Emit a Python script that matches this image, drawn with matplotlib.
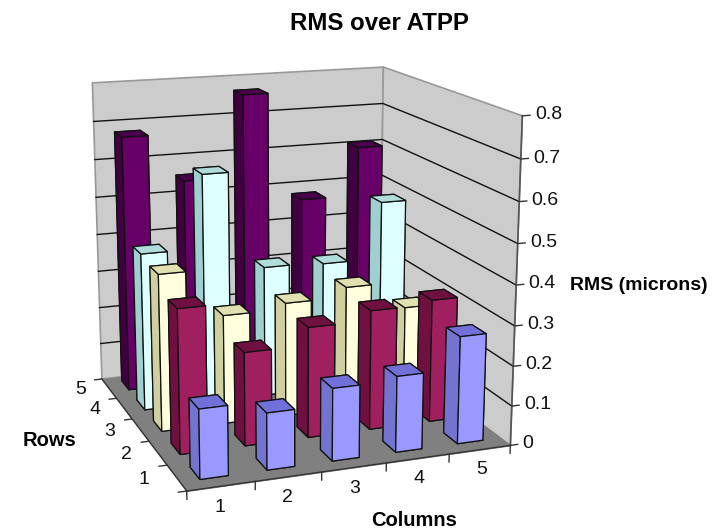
import matplotlib
matplotlib.use("Agg")
import matplotlib.pyplot as plt
from mpl_toolkits.mplot3d import proj3d
from mpl_toolkits.mplot3d.art3d import Poly3DCollection

columns = [1, 2, 3, 4, 5]
rows = [1, 2, 3, 4, 5]
z_ticks = [0, 0.1, 0.2, 0.3, 0.4, 0.5, 0.6, 0.7, 0.8]
z_tick_labels = ["0", "0.1", "0.2", "0.3", "0.4", "0.5", "0.6", "0.7", "0.8"]

rms_row1 = [0.17, 0.14, 0.18, 0.19, 0.27]
rms_row2 = [0.36, 0.235, 0.28, 0.305, 0.315]
rms_row3 = [0.40, 0.28, 0.295, 0.32, 0.25]
rms_row4 = [0.41, 0.60, 0.345, 0.34, 0.49]
rms_row5 = [0.675, 0.55, 0.765, 0.475, 0.605]
rms = [rms_row1, rms_row2, rms_row3, rms_row4, rms_row5]

# front, left side and top shade for each row
front_colors = ["#9999FF", "#A01F5F", "#FFFFDD", "#DDFFFF", "#660066"]
side_colors = ["#7373D0", "#701040", "#CFCF9F", "#9FCFCF", "#400040"]
top_colors = ["#7070D8", "#701040", "#E0E0B0", "#B0DCDC", "#4A004A"]

plt.rcParams["font.family"] = "Liberation Sans"

fig = plt.figure(figsize=(7.17, 5.31), dpi=100)
ax = fig.add_axes([22 / 717, 0, 531 / 717, 1], projection="3d")
ax.set_proj_type("persp", focal_length=0.57)
ax.view_init(elev=15, azim=-110)
ax.computed_zorder = False
ax.patch.set_visible(False)

x0, x1 = 0.5, 5.5
y0, y1 = 0.5, 5.5
z0, z1 = z_ticks[0], z_ticks[-1]

ax.set_xlim(x0, x1, view_margin=0)
ax.set_ylim(y0, y1, view_margin=0)
ax.set_zlim(z0, z1, view_margin=0)
ax.set_box_aspect((325, 325, 322), zoom=1.0285)


def label_3d(x, y, z, text, ha):
    # project by hand so the label is an ordinary 2D text
    px, py, _ = proj3d.proj_transform(x, y, z, ax.get_proj())
    ax.text2D(px, py, text, transform=ax.transData, fontsize=14, ha=ha, va="center",
              color="#111111")


# walls and floor
back_wall = [(x0, y1, z0), (x1, y1, z0), (x1, y1, z1), (x0, y1, z1)]
right_wall = [(x1, y0, z0), (x1, y1, z0), (x1, y1, z1), (x1, y0, z1)]
floor = [(x0, y0, z0), (x1, y0, z0), (x1, y1, z0), (x0, y1, z0)]
ax.add_collection3d(Poly3DCollection([back_wall, right_wall], facecolors="#CCCCCC",
                                     edgecolors="#999999", linewidths=1.2, zorder=1))
ax.add_collection3d(Poly3DCollection([floor], facecolors="#808080",
                                     edgecolors="#808080", linewidths=0.8, zorder=1))

# gridlines on the two walls
for z in z_ticks[1:-1]:
    ax.plot([x0, x1, x1], [y1, y1, y0], [z, z, z], color="#111111", lw=1.0, zorder=2)
ax.plot([x1, x1], [y0, y0], [z0, z1], color="#555555", lw=1.2, zorder=2)
ax.plot([x0, x1], [y0, y0], [z0, z0], color="#333333", lw=1.0, zorder=2)
ax.plot([x0, x0], [y0, y1], [z0, z0], color="#333333", lw=1.0, zorder=2)

# ticks
for z, label in zip(z_ticks, z_tick_labels):
    ax.plot([x1, x1 + 0.12], [y0, y0], [z, z], color="#333333", lw=1.0, zorder=2)
    label_3d(x1 + 0.2, y0, z, label, "left")
for i in range(len(columns) + 1):
    ax.plot([x0 + i, x0 + i], [y0, y0], [z0, z0 - 0.02], color="#333333", lw=1.0, zorder=2)
for i in range(len(rows) + 1):
    ax.plot([x0 - 0.12, x0], [y0 + i, y0 + i], [z0, z0], color="#333333", lw=1.0, zorder=2)
for c in columns:
    label_3d(c - 0.12, y0 - 0.3, z0 - 0.03, str(c), "center")
for r in rows:
    label_3d(x0 - 0.45, r + 0.1, z0, str(r), "center")

# bars, back to front so they overlap the right way
bar_w = 0.42
bar_d = 0.48
order = 10
for r in reversed(range(len(rows))):
    for c in reversed(range(len(columns))):
        # faces: bottom, top, front, back, left, right
        face_colors = [side_colors[r], top_colors[r], front_colors[r],
                       side_colors[r], side_colors[r], side_colors[r]]
        ax.bar3d(columns[c] - bar_w / 2, rows[r] - 0.17, 0, bar_w, bar_d, rms[r][c],
                 color=face_colors, shade=False, edgecolor="#111111", linewidth=0.9, zorder=order)
        order += 1

ax.set_xlim(x0, x1, view_margin=0)
ax.set_ylim(y0, y1, view_margin=0)
ax.set_zlim(z0, z1, view_margin=0)
ax.set_axis_off()

fig.text(379 / 717, 1 - 23 / 531, "RMS over ATPP", fontsize=17.3, fontweight="bold", ha="center", va="center")
fig.text(639 / 717, 1 - 285 / 531, "RMS (microns)", fontsize=14, fontweight="bold", ha="center", va="center")
fig.text(50 / 717, 1 - 441 / 531, "Rows", fontsize=14.5, fontweight="bold", ha="center", va="center")
fig.text(414 / 717, 1 - 521 / 531, "Columns", fontsize=14.5, fontweight="bold", ha="center", va="center")

fig.savefig("out.png", dpi=100, facecolor="white")
